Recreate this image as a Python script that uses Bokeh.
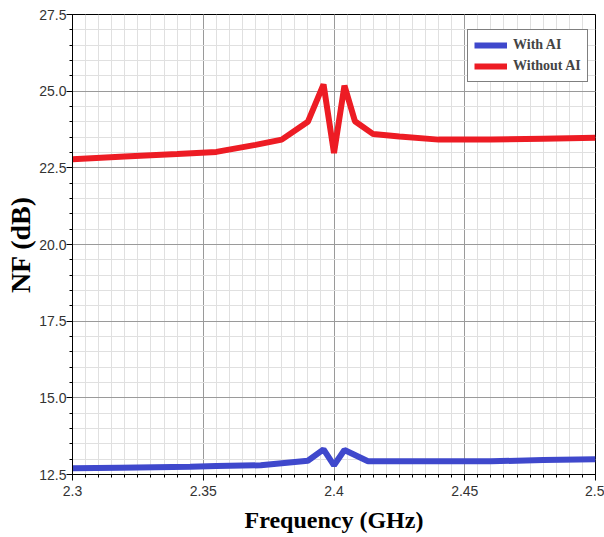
from bokeh.plotting import figure
from bokeh.models import SingleIntervalTicker, NumeralTickFormatter, Legend, LegendItem
from bokeh.embed import file_html
from bokeh.resources import INLINE

freq_without = [2.30, 2.32, 2.34, 2.355, 2.37, 2.38, 2.39, 2.396, 2.40, 2.404, 2.408, 2.415, 2.425, 2.44, 2.46, 2.48, 2.50]
nf_without = [22.78, 22.87, 22.95, 23.02, 23.25, 23.42, 24.0, 25.22, 22.98, 25.18, 24.02, 23.6, 23.52, 23.42, 23.42, 23.45, 23.48]

freq_with = [2.30, 2.318, 2.345, 2.355, 2.372, 2.38, 2.39, 2.396, 2.40, 2.404, 2.413, 2.46, 2.48, 2.50]
nf_with = [12.70, 12.72, 12.75, 12.78, 12.80, 12.87, 12.95, 13.32, 12.80, 13.30, 12.93, 12.93, 12.97, 13.0]

p = figure(width=604, height=537, output_backend="svg", toolbar_location=None,
           x_range=(2.3, 2.5), y_range=(12.5, 27.5),
           min_border_left=72, min_border_right=9, min_border_top=14, min_border_bottom=63)
p.background_fill_color = "white"
p.border_fill_color = "white"
p.outline_line_color = "black"
p.outline_line_width = 1

p.xaxis.ticker = SingleIntervalTicker(interval=0.05, num_minor_ticks=10)
p.yaxis.ticker = SingleIntervalTicker(interval=2.5, num_minor_ticks=5)
p.xaxis.formatter = NumeralTickFormatter(format="0.0[0]")
p.yaxis.formatter = NumeralTickFormatter(format="0.0")

for ax in (p.xaxis, p.yaxis):
    ax.axis_line_color = "black"
    ax.major_tick_line_color = "black"
    ax.minor_tick_line_color = "black"
    ax.major_tick_out = 6
    ax.major_tick_in = 0
    ax.minor_tick_out = 3
    ax.minor_tick_in = 0
    ax.major_label_text_font = "Liberation Sans"
    ax.major_label_text_font_size = "14px"
    ax.major_label_text_color = "#333333"
    ax.axis_label_text_font = "Liberation Serif"
    ax.axis_label_text_font_style = "bold"
    ax.axis_label_text_color = "black"

p.xaxis.axis_label = "Frequency (GHz)"
p.yaxis.axis_label = "NF (dB)"
p.xaxis.axis_label_text_font_size = "24px"
p.yaxis.axis_label_text_font_size = "28px"
p.xaxis.axis_label_standoff = 8
p.yaxis.axis_label_standoff = 0
p.yaxis.major_label_standoff = 0

p.grid.grid_line_color = "#9a9a9a"
p.grid.grid_line_width = 1
p.grid.minor_grid_line_color = "#e0e0e0"
p.grid.minor_grid_line_width = 1

r_with = p.line(freq_with, nf_with, line_color="#3F48CC", line_width=6)
r_without = p.line(freq_without, nf_without, line_color="#ED1C24", line_width=6)

legend = Legend(items=[LegendItem(label="With AI", renderers=[r_with]),
                       LegendItem(label="Without AI", renderers=[r_without])],
                location=(395, 392))
legend.label_text_font = "Liberation Serif"
legend.label_text_font_style = "bold"
legend.label_text_font_size = "14px"
legend.border_line_color = "black"
legend.border_line_width = 1
legend.glyph_width = 33
legend.glyph_height = 18
legend.label_height = 18
legend.spacing = 3
legend.padding = 6
legend.margin = 0
legend.label_standoff = 6
legend.background_fill_color = "white"
legend.background_fill_alpha = 1
p.add_layout(legend)

open("out.html", "w").write(file_html(p, INLINE))
